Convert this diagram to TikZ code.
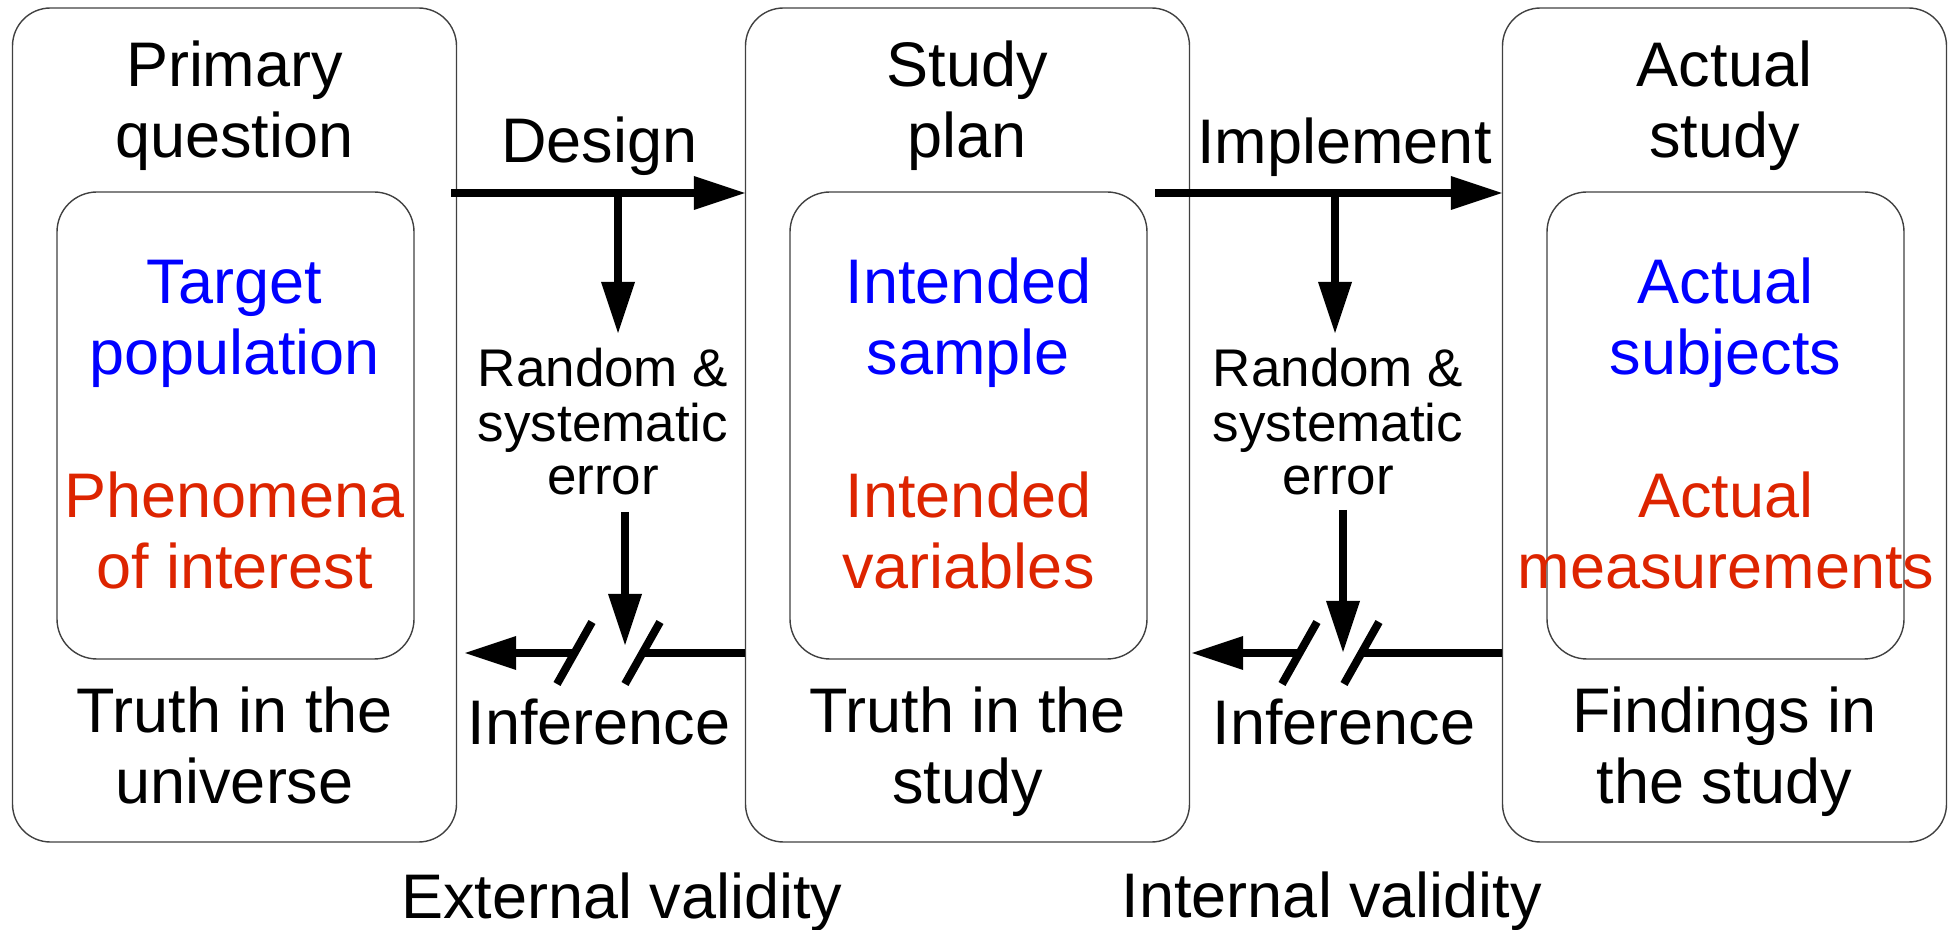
\documentclass[tikz,border=0pt]{standalone}
\usepackage{fontspec}
\setmainfont{Liberation Sans}
\usetikzlibrary{arrows.meta}
\definecolor{tblue}{RGB}{0,0,255}
\definecolor{tred}{RGB}{221,36,0}
\newcommand{\mlines}[1]{\begin{tabular}[t]{@{}c@{}}#1\end{tabular}}
\begin{document}
\begin{tikzpicture}[x=0.5pt,y=-0.5pt,
  outerbox/.style={draw=black!75, line width=0.7pt, rounded corners=19pt, minimum width=222pt, minimum height=417pt, inner sep=0pt},
  innerbox/.style={draw=black!75, line width=0.7pt, rounded corners=20pt, minimum width=178.5pt, minimum height=233.5pt, inner sep=0pt},
  big/.style={inner sep=0pt, anchor=base, font=\fontsize{31.5}{35.5}\selectfont},
  small/.style={inner sep=0pt, anchor=base, font=\fontsize{26.5}{26.5}\selectfont},
  arr/.style={line width=4pt, -{Triangle[length=25.5pt,width=17pt,line width=0pt]}},
  bar/.style={line width=4pt}
]
\useasboundingbox (0,0) rectangle (1956,930);

% boxes
\node[outerbox] (o1) at (234.5,425) {};
\node[outerbox] (o2) at (967.5,425) {};
\node[outerbox] (o3) at (1724.5,425) {};
\node[innerbox] (i1) at (235.5,425.5) {};
\node[innerbox] (i2) at (968.5,425.5) {};
\node[innerbox] (i3) at (1725.5,425.5) {};

% box texts
\node[big] (t1) at (234.5,87) {\mlines{Primary\\question}};
\node[big] (t2) at (967.5,87) {\mlines{Study\\plan}};
\node[big] (t3) at (1724.5,87) {\mlines{Actual\\study}};

\node[big, text=tblue] (p1) at (234.5,304) {\mlines{Target\\population}};
\node[big, text=tblue] (p2) at (968.5,304) {\mlines{Intended\\sample}};
\node[big, text=tblue] (p3) at (1725.5,304) {\mlines{Actual\\subjects}};

\node[big, text=tred] (v1) at (234.5,518) {\mlines{Phenomena\\of interest}};
\node[big, text=tred] (v2) at (968.5,518) {\mlines{Intended\\variables}};
\node[big, text=tred] (v3) at (1726,518) {\mlines{Actual\\measurements}};

\node[big] (f1) at (234.5,733) {\mlines{Truth in the\\universe}};
\node[big] (f2) at (967.5,733) {\mlines{Truth in the\\study}};
\node[big] (f3) at (1724.5,733) {\mlines{Findings in\\the study}};

% labels between boxes
\node[big] (design) at (599.5,163) {Design};
\node[big] (impl) at (1344.5,164) {Implement};
\node[small] (err1) at (603,387) {\mlines{Random \&\\systematic\\error}};
\node[small] (err2) at (1338,387) {\mlines{Random \&\\systematic\\error}};
\node[big] (inf1) at (599,744) {Inference};
\node[big] (inf2) at (1344,744) {Inference};
\node[big] (ext) at (622,918) {External validity};
\node[big] (int) at (1332,917) {Internal validity};

% rows
\coordinate (urow) at (0,193);
\coordinate (lrow) at (0,653);

% Design / Implement arrows
\coordinate (d0) at (451,193);
\coordinate (d1) at (618,193);
\coordinate (d2) at (618,333);
\draw[arr] (d0) -- (d0 -| o2.west);
\draw[arr] (d1) -- (d2);

\coordinate (m0) at (1155,193);
\coordinate (m1) at (1335,193);
\coordinate (m2) at (1335,333);
\draw[arr] (m0) -- (m0 -| o3.west);
\draw[arr] (m1) -- (m2);

% lower left inference
\coordinate (ls1) at (574.5,653);
\coordinate (ls2) at (642.5,653);
\coordinate (la) at (465,653);
\draw[bar] (o2.west |- lrow) -- (ls2);
\draw[arr] (ls1) -- (la);
\draw[bar] ([shift={(17.5,-31)}]ls1) -- ([shift={(-17.5,31)}]ls1);
\draw[bar] ([shift={(17.5,-31)}]ls2) -- ([shift={(-17.5,31)}]ls2);
\coordinate (e1) at (625,512);
\coordinate (e2) at (625,645);
\draw[arr] (e1) -- (e2);

% lower right inference
\coordinate (rs1) at (1299.5,653);
\coordinate (rs2) at (1361.5,653);
\coordinate (ra) at (1192,653);
\draw[bar] (o3.west |- lrow) -- (rs2);
\draw[arr] (rs1) -- (ra);
\draw[bar] ([shift={(17.5,-31)}]rs1) -- ([shift={(-17.5,31)}]rs1);
\draw[bar] ([shift={(17.5,-31)}]rs2) -- ([shift={(-17.5,31)}]rs2);
\coordinate (g1) at (1343,510);
\coordinate (g2) at (1343,652);
\draw[arr] (g1) -- (g2);
\end{tikzpicture}
\end{document}
